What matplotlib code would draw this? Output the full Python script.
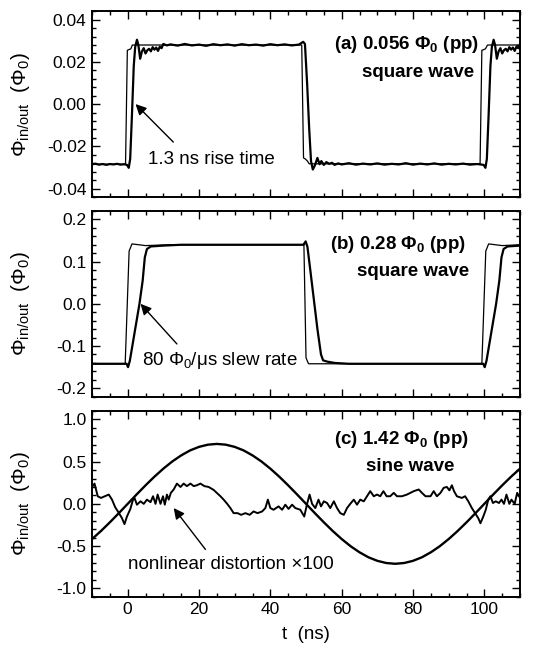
import matplotlib
matplotlib.use("Agg")
import matplotlib.pyplot as plt
from matplotlib.ticker import MultipleLocator, AutoMinorLocator

plt.rcParams["font.family"] = ["Liberation Sans", "DejaVu Sans"]
plt.rcParams["mathtext.fontset"] = "custom"
plt.rcParams["mathtext.rm"] = "Liberation Sans"
plt.rcParams["mathtext.it"] = "Liberation Sans:italic"
plt.rcParams["mathtext.bf"] = "Liberation Sans:bold"

# panel (a): 0.056 Phi0 square wave, input (thin) and output (thick)
a_in_t = [-10, -0.6, -0.1, 0.3, 0.9, 1.3, 48.8, 49.3, 49.8, 50.4, 50.9,
          98.8, 99.3, 99.8, 100.3, 100.9, 110]
a_in_y = [-0.0285, -0.0285, 0.0255, 0.0258, 0.0262, 0.028, 0.028, -0.0255,
          -0.026, -0.027, -0.0283, -0.0283, 0.0255, 0.0258, 0.0262, 0.028, 0.028]

a_out_t = [-10, -9, -8, -7, -6, -5, -4, -3, -2, -1,
           -0.2, 0.3, 0.7, 1.2, 1.7, 2.1, 2.6, 3.0, 3.5, 4.0,
           4.5, 5.0, 5.5, 6.0, 6.5, 7.0, 7.5, 8.0, 8.5, 9.0,
           9.5, 10.0, 11, 12, 14, 16, 18, 20, 22, 24,
           26, 28, 30, 32, 34, 36, 38, 40, 42, 44,
           46, 48, 49.2, 49.7, 50.3, 50.9, 51.4, 51.9, 52.5, 53.2,
           53.8, 54.3, 55.0, 55.7, 56.5, 57.3, 58.0, 59, 60, 62,
           64, 66, 68, 70, 72, 74, 76, 78, 80, 82,
           84, 86, 88, 90, 92, 94, 96, 98, 99.8, 100.3,
           100.7, 101.2, 101.7, 102.1, 102.6, 103.0, 103.5, 104.0, 104.5, 105.0,
           105.5, 106.0, 106.5, 107.0, 107.5, 108.0, 108.5, 109.0, 109.5, 110]
a_out_y = [-0.0285, -0.0283, -0.0287, -0.0284, -0.0288, -0.0284, -0.0286, -0.0283, -0.0287, -0.0285,
           -0.0288, -0.0302, -0.026, -0.005, 0.018, 0.027, 0.0305, 0.028, 0.0215, 0.025,
           0.0265, 0.024, 0.0255, 0.0262, 0.025, 0.027, 0.0258, 0.0268, 0.0252, 0.0272,
           0.0265, 0.0285, 0.0278, 0.0283, 0.0277, 0.0285, 0.0278, 0.0282, 0.0276, 0.0284,
           0.0279, 0.0283, 0.0277, 0.0284, 0.0279, 0.0282, 0.0277, 0.0284, 0.0279, 0.0283,
           0.0278, 0.0282, 0.0295, 0.0285, 0.010, -0.012, -0.027, -0.031, -0.029, -0.0255,
           -0.0285, -0.027, -0.0288, -0.0275, -0.0283, -0.0278, -0.0288, -0.0281, -0.0286, -0.0280,
           -0.0287, -0.0282, -0.0286, -0.0281, -0.0287, -0.0283, -0.0286, -0.0280, -0.0287, -0.0282,
           -0.0286, -0.0281, -0.0287, -0.0283, -0.0286, -0.0282, -0.0287, -0.0284, -0.0288, -0.0302,
           -0.026, -0.005, 0.018, 0.027, 0.0305, 0.028, 0.0215, 0.025, 0.0265, 0.024,
           0.0255, 0.0262, 0.025, 0.027, 0.0258, 0.0268, 0.0252, 0.0272, 0.0265, 0.0285]

# panel (b): 0.28 Phi0 square wave, slew-rate limited output
b_in_t = [-10, -0.7, 0.4, 1.2, 5, 12, 49.1, 49.4, 50.0, 50.7, 98.8, 99.3,
          100.4, 101.2, 105, 110]
b_in_y = [-0.142, -0.142, 0.125, 0.142, 0.138, 0.140, 0.140, 0.143, -0.128,
          -0.142, -0.142, -0.142, 0.125, 0.142, 0.138, 0.140]

b_out_t = [-10, -0.3, 0.1, 0.6, 1.5, 2.5, 3.3, 4.2, 4.8, 5.4, 6.5, 10, 15,
           49.3, 49.9, 50.4, 51.2, 52.2, 53.2, 54.2, 54.8, 56, 58, 62, 98.8,
           99.7, 100.1, 100.6, 101.5, 102.5, 103.3, 104.2, 104.8, 105.4,
           106.5, 110]
b_out_y = [-0.142, -0.142, -0.150, -0.135, -0.090, -0.040, 0.000, 0.055,
           0.110, 0.130, 0.136, 0.138, 0.140, 0.140, 0.148, 0.135, 0.080,
           0.010, -0.060, -0.120, -0.134, -0.137, -0.140, -0.142, -0.142,
           -0.142, -0.150, -0.135, -0.090, -0.040, 0.000, 0.055, 0.110,
           0.130, 0.136, 0.138]

# panel (c): 1.42 Phi0 sine wave and nonlinear distortion x100
c_sine_t = [-10, -7.5, -5, -2.5, 0, 2.5, 5, 7.5, 10, 12.5, 15, 17.5, 20, 22.5,
            25, 27.5, 30, 32.5, 35, 37.5, 40, 42.5, 45, 47.5, 50, 52.5, 55,
            57.5, 60, 62.5, 65, 67.5, 70, 72.5, 75, 77.5, 80, 82.5, 85, 87.5,
            90, 92.5, 95, 97.5, 100, 102.5, 105, 107.5, 110]
c_sine_y = [-0.417, -0.322, -0.219, -0.111, 0.0, 0.111, 0.219, 0.322, 0.417,
            0.502, 0.574, 0.633, 0.675, 0.701, 0.710, 0.701, 0.675, 0.633,
            0.574, 0.502, 0.417, 0.322, 0.219, 0.111, 0.0, -0.111, -0.219,
            -0.322, -0.417, -0.502, -0.574, -0.633, -0.675, -0.701, -0.710,
            -0.701, -0.675, -0.633, -0.574, -0.502, -0.417, -0.322, -0.219,
            -0.111, 0.0, 0.111, 0.219, 0.322, 0.417]

c_dist_t = [-10, -9.3, -8.4, -7.5, -6.4, -5.3, -4.4, -3.5, -2.6, -1.6, -0.9,
            -0.2, 0.75, 1.5, 1.9, 2.6, 3.6, 4.5, 5.4, 6.4, 7.1, 7.8, 8.4, 9.2,
            9.9, 10.4, 11.0, 11.5, 12.1, 12.9, 13.8, 14.8, 15.7, 16.6, 17.6,
            18.5, 19.4, 20.4, 21.5, 22.7, 24.1, 25.0, 26.0, 26.9, 27.9, 28.8,
            29.7, 30.8, 31.8, 33.0, 34.2, 35.3, 36.4, 37.7, 38.6, 39.3, 40.0,
            40.9, 42.3, 43.3, 44.2, 45.1, 46.1, 47.0, 48.4, 49.5, 50.3, 51.0,
            51.7, 52.6, 53.5, 54.2, 55.0, 55.9, 56.8, 57.8, 58.7, 59.6, 60.6,
            61.5, 62.4, 63.4, 64.3, 65.2, 66.2, 67.1, 68.0, 69.0, 69.9, 70.8,
            71.7, 72.6, 73.6, 74.6, 75.5, 76.9, 78.3, 80.2, 81.6, 82.5, 83.5,
            84.9, 85.8, 86.7, 87.7, 88.6, 89.5, 90.2, 90.9, 91.5, 92.3, 93.7,
            94.6, 95.5, 96.5, 97.4, 98.3, 98.9, 99.7, 100.4, 101.1, 101.7,
            102.4, 103.2, 104.1, 104.8, 105.5, 106.2, 107.0, 107.6, 108.5,
            109.2, 110]
c_dist_y = [0.20, 0.24, 0.09, 0.07, 0.09, 0.11, 0.05, -0.04, -0.10, -0.17,
            -0.24, -0.15, -0.06, 0.05, 0.07, -0.01, 0.03, 0.00, 0.05, 0.02,
            0.09, 0.00, 0.11, 0.00, 0.09, -0.01, 0.11, 0.05, 0.13, 0.17, 0.24,
            0.20, 0.24, 0.21, 0.24, 0.21, 0.22, 0.24, 0.21, 0.20, 0.165, 0.13,
            0.09, 0.05, 0.00, -0.05, -0.11, -0.11, -0.13, -0.11, -0.13, -0.09,
            -0.11, -0.09, -0.05, 0.05, -0.05, -0.07, -0.03, -0.07, -0.01,
            -0.06, -0.01, -0.05, -0.07, -0.15, 0.00, 0.11, 0.00, -0.05, 0.05,
            -0.03, 0.03, 0.01, -0.05, 0.03, -0.05, -0.11, -0.13, -0.05, 0.00,
            0.05, -0.01, 0.05, 0.03, 0.09, 0.15, 0.09, 0.11, 0.09, 0.15, 0.09,
            0.09, 0.13, 0.09, 0.09, 0.11, 0.15, 0.17, 0.13, 0.09, 0.09, 0.15,
            0.09, 0.13, 0.19, 0.20, 0.16, 0.22, 0.15, 0.09, 0.07, 0.09, 0.03,
            -0.05, -0.11, -0.17, -0.23, -0.15, -0.07, 0.05, 0.09, 0.01, 0.03,
            0.01, 0.05, 0.00, 0.11, 0.00, 0.05, 0.00, 0.13, 0.07]

ylims = [0.044, 0.22, 1.1]
y_major = [0.02, 0.1, 0.5]
y_fmt = ["{:.2f}", "{:.1f}", "{:.1f}"]
titles = [r"(a) 0.056 $\mathbf{\Phi_0}$ (pp)", r"(b) 0.28 $\mathbf{\Phi_0}$ (pp)",
          r"(c) 1.42 $\mathbf{\Phi_0}$ (pp)"]
subtitles = ["square wave", "square wave", "sine wave"]
# label placement in axes fractions: (x title, y title, x subtitle, y subtitle)
label_pos = [(0.734, 0.822, 0.762, 0.668),
             (0.714, 0.822, 0.75, 0.675),
             (0.723, 0.845, 0.743, 0.70)]

fig = plt.figure(figsize=(5.35, 6.5), dpi=100)
bottoms = [0.697, 0.3897, 0.082]
axes = [fig.add_axes([0.172, b, 0.800, 0.2857]) for b in bottoms]

thin = dict(color="black", lw=0.9)
thick = dict(color="black", lw=1.6)

axes[0].plot(a_in_t, a_in_y, **thin)
axes[0].plot(a_out_t, a_out_y, **thick)
axes[1].plot(b_in_t, b_in_y, **thin)
axes[1].plot(b_out_t, b_out_y, **thick)
axes[2].plot(c_sine_t, c_sine_y, color="black", lw=1.7)
axes[2].plot(c_dist_t, c_dist_y, color="black", lw=1.4)

for i, ax in enumerate(axes):
    ax.set_xlim(-10, 110)
    ax.set_ylim(-ylims[i], ylims[i])
    ax.xaxis.set_major_locator(MultipleLocator(20))
    ax.xaxis.set_minor_locator(MultipleLocator(5))
    ax.yaxis.set_major_locator(MultipleLocator(y_major[i]))
    ax.yaxis.set_minor_locator(AutoMinorLocator(5))
    ax.yaxis.set_major_formatter(
        lambda v, pos, f=y_fmt[i]: f.format(0.0 if abs(v) < 1e-9 else v))
    ax.tick_params(which="both", direction="in", top=True, right=True, width=1.0,
                   labelsize=12.5, pad=4)
    ax.tick_params(which="major", length=6)
    ax.tick_params(which="minor", length=3)
    for sp in ax.spines.values():
        sp.set_linewidth(1.4)
    if i < 2:
        ax.tick_params(labelbottom=False)
    ax.set_ylabel(r"$\Phi_{\mathrm{in/out}}$  ($\Phi_0$)", fontsize=15)
    ax.yaxis.set_label_coords(-0.14, 0.5)

    xt, yt, xs, ys = label_pos[i]
    ax.text(xt, yt, titles[i], transform=ax.transAxes, ha="center",
            va="center", fontsize=13.5, fontweight="bold")
    ax.text(xs, ys, subtitles[i], transform=ax.transAxes, ha="center",
            va="center", fontsize=13.5, fontweight="bold")

arrow = dict(arrowstyle="-|>", color="black", lw=1.0, mutation_scale=16,
             shrinkA=0, shrinkB=0)
axes[0].annotate("", xy=(2.2, 0.0), xytext=(12.8, -0.018), arrowprops=arrow)
axes[0].text(5.8, -0.0264, "1.3 ns rise time", fontsize=13.5, va="center")
axes[1].annotate("", xy=(3.6, 0.0), xytext=(13.8, -0.095), arrowprops=arrow)
axes[1].text(4.0, -0.134, r"80 $\Phi_0$/μs slew rate", fontsize=13.5, va="center")
axes[2].annotate("", xy=(12.9, -0.05), xytext=(21.8, -0.54), arrowprops=arrow)
axes[2].text(0.0, -0.72, "nonlinear distortion ×100", fontsize=13.5, va="center")

axes[2].set_xlabel("t  (ns)", fontsize=13.5, labelpad=6)

fig.savefig("out.png", dpi=100)
